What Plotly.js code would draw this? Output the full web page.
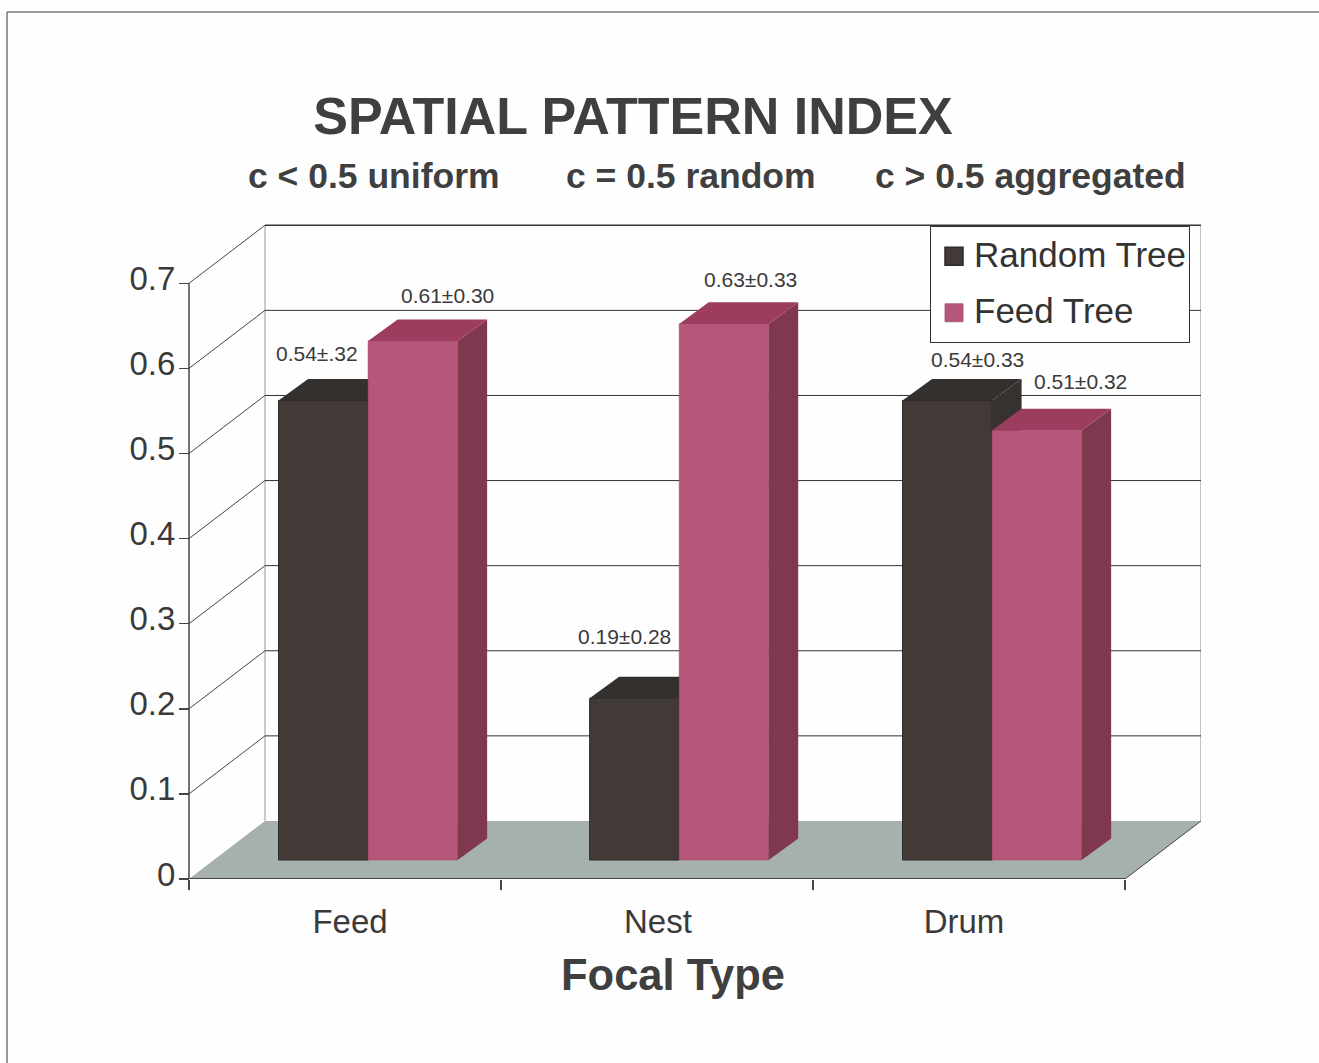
<!DOCTYPE html>
<html>
<head>
<meta charset="utf-8">
<script src="https://cdn.plot.ly/plotly-3.0.1.min.js"></script>
<style>html,body{margin:0;padding:0;background:#fefefe}#c{width:1319px;height:1063px}</style>
</head>
<body>
<div id="c"></div>
<script>
// ---- data ----
const categories = ['Feed', 'Nest', 'Drum'];
const seriesNames = ['Random Tree', 'Feed Tree'];
const randomTree = [0.54, 0.19, 0.54];
const feedTree = [0.61, 0.63, 0.505];
const randomLabels = ['0.54±.32', '0.19±0.28', '0.54±0.33'];
const feedLabels = ['0.61±0.30', '0.63±0.33', '0.51±0.32'];
const yTicks = [0, 0.1, 0.2, 0.3, 0.4, 0.5, 0.6, 0.7];
const yTickText = ['0', '0.1', '0.2', '0.3', '0.4', '0.5', '0.6', '0.7'];

// ---- chart geometry ----
const groupCentre = [0.574, 1.571, 2.574];
const categoryLabelAt = [0.516, 1.503, 2.484];
const boundaries = [0, 1, 2, 3];
const randomLabelPos = [[0.410, 0.617], [1.397, 0.2855], [2.526, 0.610]];
const feedLabelPos = [[0.827, 0.686], [1.801, 0.705], [2.856, 0.585]];
const barW = 0.287, barBase = 0.0223, depthX = 0.0946, depthY = 0.0253;
const wallX = 0.2436, wallY = 0.0682, xEnd = 3, yTop = 0.7;
const L = 145, R = 1201, T = 223, B = 879;
const xMin = (L - 189) / 312, xMax = (R - 189) / 312, yMax = (B - T) / 851;

const FONT = 'Liberation Sans, Arial, sans-serif';
const C = {dark:'#423a36', darkTop:'#33302e', darkSide:'#37312f', pink:'#b5567a', pinkTop:'#9c3c5f', pinkSide:'#80384f', floor:'#a6b0ac', ink:'#3a3a3a'};

const poly = (pts, fill, layer) => ({
  type:'path', xref:'x', yref:'y', layer, fillcolor:fill, line:{width:0},
  path:'M' + pts.map(p => p[0] + ',' + p[1]).join(' L') + ' Z'
});
const seg = (x0, y0, x1, y1, color, width, layer) => ({
  type:'line', xref:'x', yref:'y', x0, y0, x1, y1, layer:layer || 'below', line:{color, width}
});
const topFace = (x0, x1, y, fill, layer) => poly([[x0,y],[x1,y],[x1+depthX,y+depthY],[x0+depthX,y+depthY]], fill, layer);
const sideFace = (x, y, fill, layer) => poly([[x,barBase],[x,y],[x+depthX,y+depthY],[x+depthX,barBase+depthY]], fill, layer);

const shapes = [];
// floor
shapes.push(poly([[0,0],[xEnd,0],[xEnd+wallX,wallY],[wallX,wallY]], C.floor, 'below'));
// walls
shapes.push(seg(wallX, wallY, wallX, yTop+wallY, '#999999', 1));
shapes.push(seg(xEnd+wallX, wallY, xEnd+wallX, yTop+wallY, '#888888', 1));
shapes.push(seg(xEnd, 0, xEnd+wallX, wallY, '#444444', 1));
// gridlines
yTicks.slice(1).forEach(v => {
  shapes.push(seg(0, v, wallX, v+wallY, '#444444', 1));
  shapes.push(seg(wallX, v+wallY, xEnd+wallX, v+wallY, '#333333', v === yTop ? 1.5 : 1));
});
// axes
shapes.push(seg(0, 0, 0, yTop, '#444444', 1.5));
shapes.push(seg(0, 0, xEnd, 0, '#444444', 2));
// 3-D faces of the bars
groupCentre.forEach((c, i) => {
  const yr = barBase + randomTree[i], yf = barBase + feedTree[i];
  shapes.push(sideFace(c, yr, C.darkSide, 'below'));
  shapes.push(topFace(c - barW, c, yr, C.darkTop, 'below'));
  shapes.push(sideFace(c + barW, yf, C.pinkSide, 'above'));
  shapes.push(topFace(c, c + barW, yf, C.pinkTop, 'above'));
});

// page frame
shapes.push({type:'line', xref:'paper', yref:'paper', x0:(7-L)/(R-L), x1:(1319-L)/(R-L), y0:(B-12)/(B-T), y1:(B-12)/(B-T), line:{color:'#777777', width:1.5}});
shapes.push({type:'line', xref:'paper', yref:'paper', x0:(7-L)/(R-L), x1:(7-L)/(R-L), y0:(B-12)/(B-T), y1:(B-1063)/(B-T), line:{color:'#777777', width:1.5}});

const annotations = [];
const addLabel = (t, p) => annotations.push({xref:'x', yref:'y', x:p[0], y:p[1], text:t, showarrow:false, xanchor:'center', yanchor:'middle', font:{family:FONT, size:21, color:'#3a3a3a'}});
randomLabels.forEach((t, i) => addLabel(t, randomLabelPos[i]));
feedLabels.forEach((t, i) => addLabel(t, feedLabelPos[i]));
const subtitles = [['c < 0.5 uniform', 374], ['c = 0.5 random', 691], ['c > 0.5 aggregated', 1030]];
subtitles.forEach(s => annotations.push({xref:'paper', yref:'paper', x:(s[1]-L)/(R-L), y:(B-176)/(B-T), text:s[0], showarrow:false, xanchor:'center', yanchor:'middle', font:{family:FONT, size:35.5, color:'#3f3f3f', weight:700}}));

const traces = [
  {type:'bar', name:seriesNames[0], legendgroup:'a', x:groupCentre, y:randomTree, base:barBase, width:barW, offset:-barW, marker:{color:C.dark, line:{color:'#2e2a28', width:1}}, hoverinfo:'name+text', text:randomLabels, textposition:'none'},
  {type:'bar', name:seriesNames[1], legendgroup:'b', x:groupCentre, y:feedTree, base:barBase, width:barW, offset:0, marker:{color:C.pink, line:{color:'#a24a6c', width:0.5}}, hoverinfo:'name+text', text:feedLabels, textposition:'none'}
];

const layout = {
  width:1319, height:1063,
  margin:{l:L, r:1319-R, t:T, b:1063-B},
  paper_bgcolor:'#fefefe', plot_bgcolor:'rgba(0,0,0,0)',
  barmode:'overlay',
  title:{text:'SPATIAL PATTERN INDEX', xref:'container', yref:'container', x:633/1319, y:1-116/1063, xanchor:'center', yanchor:'middle', font:{family:FONT, size:52, color:'#3f3f3f', weight:700}},
  xaxis:{type:'linear', range:[xMin, xMax], tickmode:'array', tickvals:categoryLabelAt, ticktext:categories, ticks:'', ticklabelstandoff:20,
    minor:{tickmode:'array', tickvals:boundaries, ticks:'outside', ticklen:10, tickwidth:1.5, tickcolor:'#444444', showgrid:false},
    showgrid:false, zeroline:false, showline:false, tickfont:{family:FONT, size:33, color:C.ink},
    title:{text:'Focal Type', standoff:20, font:{family:FONT, size:43.5, color:'#3f3f3f', weight:700}}},
  yaxis:{range:[0, yMax], anchor:'free', position:(189-L)/(R-L), tickmode:'array', tickvals:yTicks, ticktext:yTickText, ticks:'outside', ticklen:10, tickwidth:1.5, tickcolor:'#444444',
    ticklabelstandoff:-3, ticklabelshift:-5,
    showgrid:false, zeroline:false, showline:false, tickfont:{family:FONT, size:33, color:C.ink}},
  legend:{x:(930-L)/(R-L), y:(B-226)/(B-T), xanchor:'left', yanchor:'top', bgcolor:'#ffffff', bordercolor:'#333333', borderwidth:1,
    font:{family:FONT, size:35, color:'#333333'}, tracegroupgap:8, traceorder:'grouped', entrywidth:220, itemclick:false, itemdoubleclick:false},
  showlegend:true,
  shapes, annotations
};
Plotly.newPlot('c', traces, layout, {displayModeBar:false, staticPlot:true}).then(() => {
  document.querySelectorAll('.legend .legendpoints path').forEach(p => {
    p.setAttribute('transform', (p.getAttribute('transform') || '') + ' translate(3,0) scale(1.5)');
  });
  document.querySelectorAll('.legend .legendtext').forEach(t => {
    t.setAttribute('x', (+t.getAttribute('x') || 0) + 3);
    t.setAttribute('y', (+t.getAttribute('y') || 0) - 3);
  });
});
</script>
</body>
</html>
